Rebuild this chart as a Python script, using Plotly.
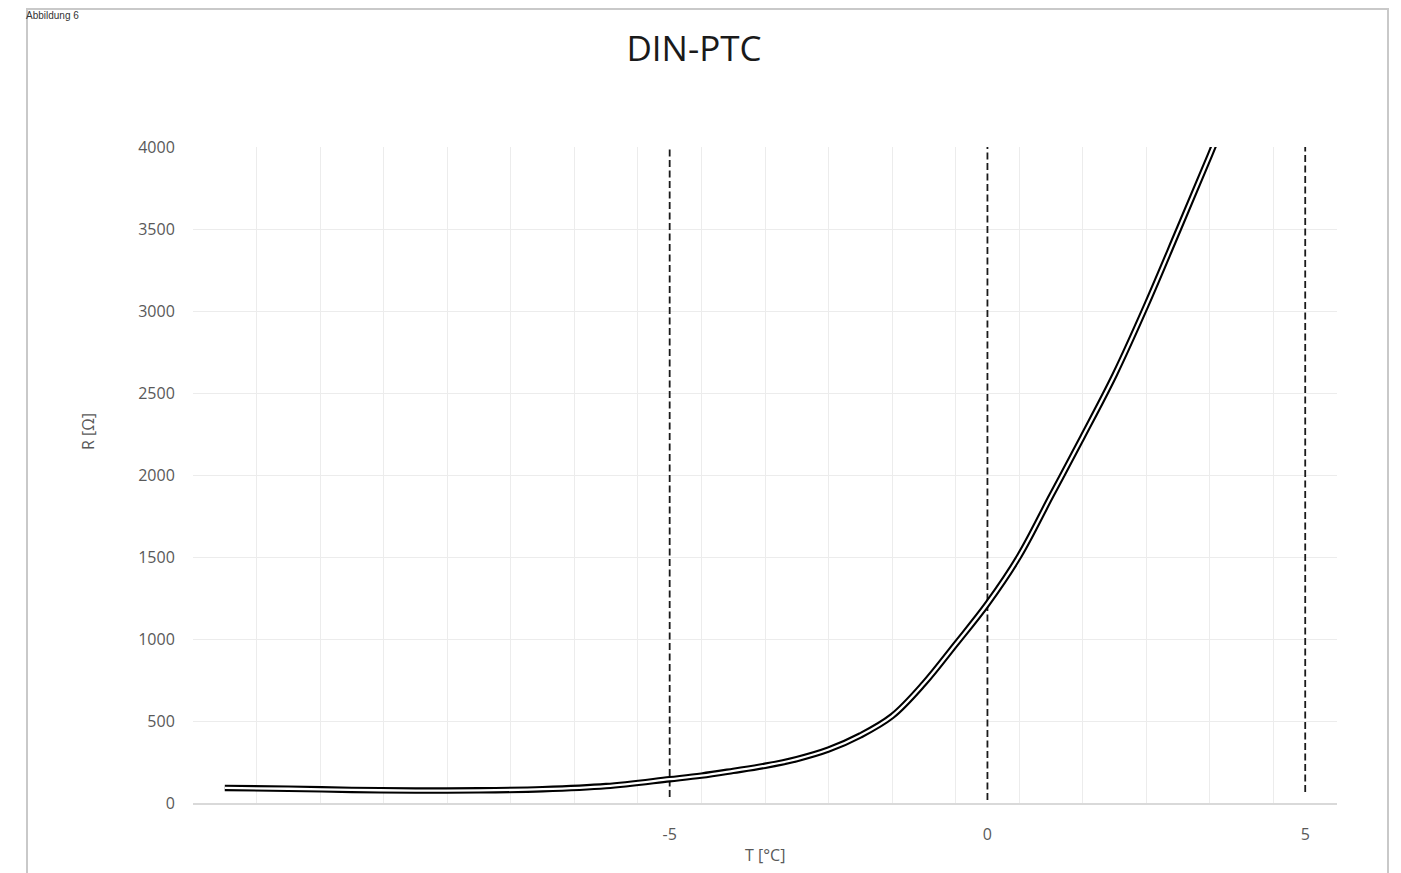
import plotly.graph_objects as go

# Curve data (T in °C, R in Ohm)
temps = [-12.0, -11.0, -10.0, -9.0, -8.0, -7.0, -6.0, -5.0, -4.5, -4.0, -3.5, -3.0, -2.5, -2.0,
         -1.5, -1.0, -0.5, 0.0, 0.5, 1.0, 1.5, 2.0, 2.5, 3.0, 3.5, 4.0]
resist = [92, 87, 80, 76, 77, 84, 103, 145, 167, 196, 227, 268, 326, 412,
          530, 728, 968, 1215, 1505, 1870, 2235, 2610, 3035, 3490, 3950, 4420]

# Vertical dashed marker lines
marker_x = [-5, 0, 5]
marker_bottom = [37, 18, 67]
marker_top = [4000, 4000, 4000]

x_ticks = [-5, 0, 5]
y_ticks = [0, 500, 1000, 1500, 2000, 2500, 3000, 3500, 4000]

title_text = "DIN-PTC"
x_title = "T [°C]"
y_title = "R [Ω]"
caption = "Abbildung 6"

fig = go.Figure()

for mx, mb, mt in zip(marker_x, marker_bottom, marker_top):
    fig.add_trace(go.Scatter(x=[mx, mx], y=[mb, mt], mode="lines",
                             line=dict(color="#1a1a1a", width=1.8, dash="7px,3.5px"),
                             showlegend=False, hoverinfo="skip"))

# Double line: thick black under thin white
fig.add_trace(go.Scatter(x=temps, y=resist, mode="lines",
                         line=dict(color="#000000", width=6.5, shape="spline", smoothing=1.0),
                         showlegend=False))
fig.add_trace(go.Scatter(x=temps, y=resist, mode="lines",
                         line=dict(color="#ffffff", width=2.3, shape="spline", smoothing=1.0),
                         showlegend=False, hoverinfo="skip"))

tick_font = dict(family="Open Sans, sans-serif", size=16, color="#595959")

W, H = 1393, 865   # page body has an 8px margin

fig.update_layout(
    width=W, height=H,
    margin=dict(l=185, r=64, t=139, b=70),
    paper_bgcolor="white", plot_bgcolor="white",
    showlegend=False,
    title=dict(text=title_text, x=(694 - 8) / W, xanchor="center", xref="container",
               y=1 - (48.5 - 8) / H, yanchor="middle", yref="container",
               font=dict(family="Open Sans, sans-serif", size=35, color="#1a1a1a")),
    xaxis=dict(range=[-12.5, 5.5], tickvals=x_ticks, ticktext=[str(v) for v in x_ticks],
               showgrid=False, zeroline=False,
               showline=True, linecolor="#d9d9d9", linewidth=1.5,
               ticks="outside", ticklen=16, tickcolor="rgba(0,0,0,0)",
               tickfont=tick_font,
               minor=dict(tick0=0.5, dtick=1, showgrid=True, gridcolor="#ececec",
                          gridwidth=1, ticks="")),
    yaxis=dict(range=[0, 4000], tickvals=y_ticks, showgrid=True, gridcolor="#ececec",
               gridwidth=1, zeroline=False, showline=False,
               ticks="outside", ticklen=14, tickcolor="rgba(0,0,0,0)",
               tickfont=tick_font),
    shapes=[dict(type="rect", xref="paper", yref="paper",
                 x0=(27 - 193) / 1144, x1=(1388 - 193) / 1144,
                 y0=(803 - 890) / 656, y1=(803 - 9) / 656,
                 line=dict(color="#c9c9c9", width=2), fillcolor="rgba(0,0,0,0)",
                 layer="below")],
    annotations=[
        dict(text=x_title, xref="paper", yref="paper", x=0.5, y=(803 - 855) / 656,
             xanchor="center", yanchor="middle", showarrow=False,
             font=dict(family="Open Sans, sans-serif", size=16, color="#595959")),
        dict(text=y_title, xref="paper", yref="paper", x=(88 - 193) / 1144,
             y=(803 - 432) / 656, xanchor="center", yanchor="middle", showarrow=False,
             textangle=-90,
             font=dict(family="Open Sans, sans-serif", size=16, color="#595959")),
        dict(text=caption, xref="paper", yref="paper", x=(24 - 193) / 1144,
             y=(803 - 8) / 656, xanchor="left", yanchor="top", showarrow=False,
             font=dict(family="Liberation Sans, Arial, sans-serif", size=10, color="#333333")),
    ],
)

fig.write_html("out.html")
